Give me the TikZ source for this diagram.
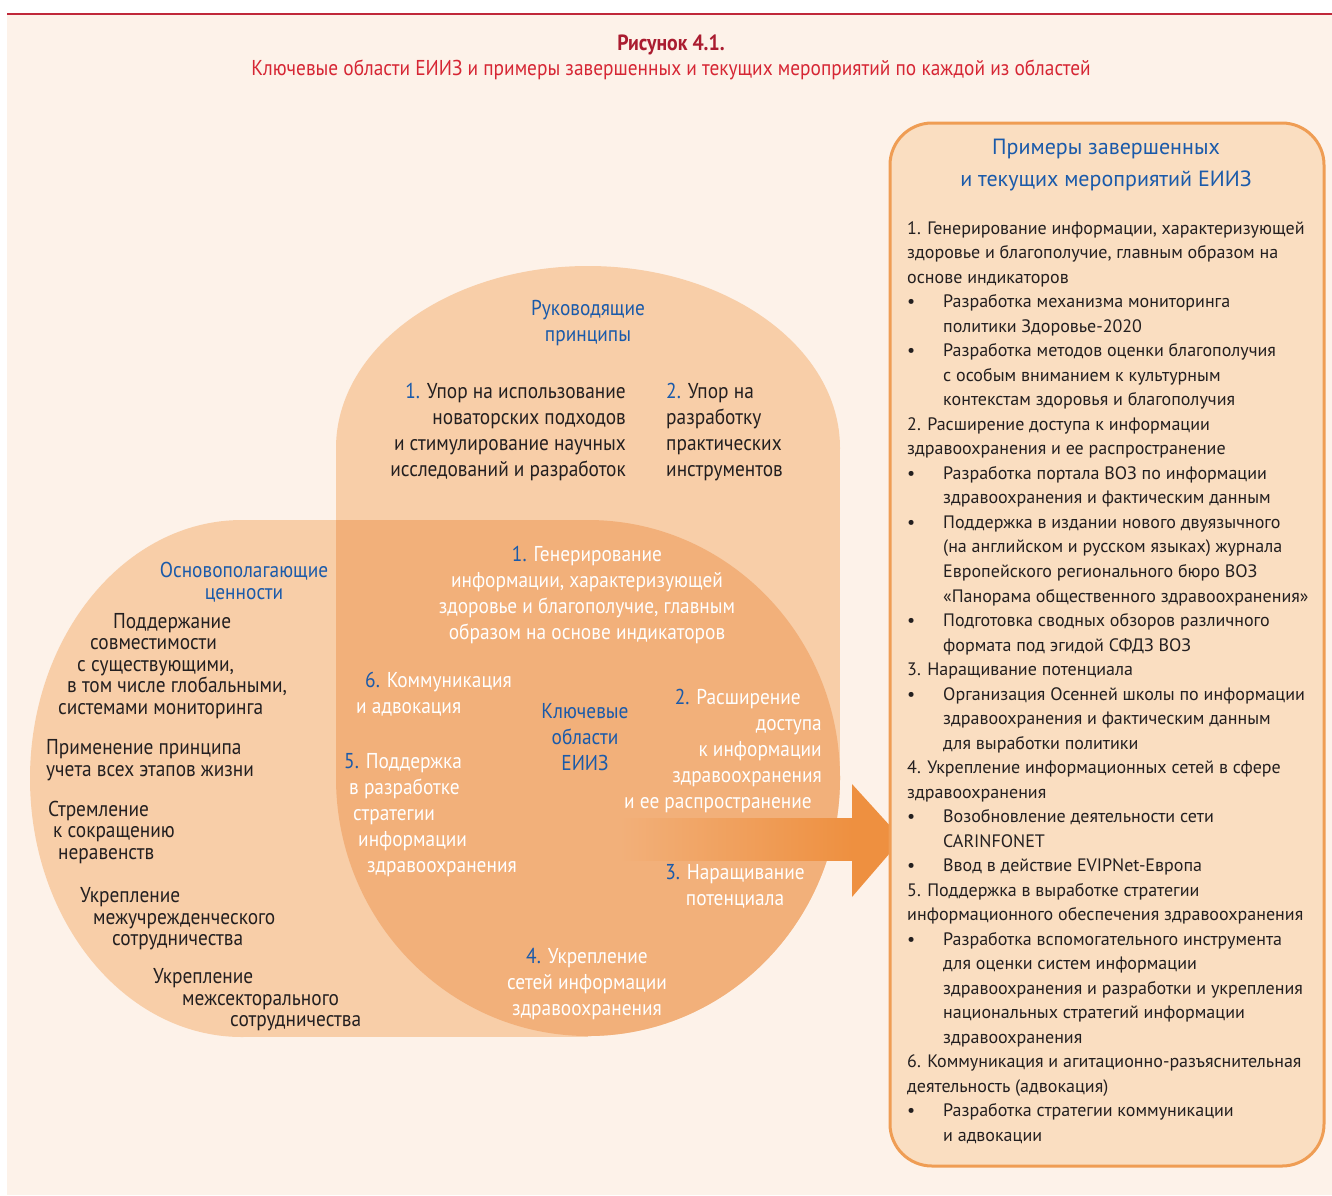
\documentclass[tikz,border=0pt]{standalone}
\usepackage{fontspec}
\setmainfont{PT Sans}
\newfontfamily\narrowfont[FakeStretch=0.9]{PT Sans}
\usepackage{tikz}
\usepackage{xcolor}
\definecolor{paper}{RGB}{253,242,233}
\definecolor{ruleRed}{RGB}{192,40,58}
\definecolor{titleRed}{RGB}{170,28,48}
\definecolor{captionRed}{RGB}{214,38,52}
\definecolor{peachLight}{RGB}{248,206,168}
\definecolor{peachDark}{RGB}{242,176,122}
\definecolor{arrowOrange}{RGB}{238,144,64}
\definecolor{boxFill}{RGB}{250,222,193}
\definecolor{boxLine}{RGB}{239,157,84}
\definecolor{whoBlue}{RGB}{26,90,170}
\definecolor{inkDark}{RGB}{35,31,32}
\newcommand{\areanum}[1]{\textcolor{whoBlue}{#1}}
\newcommand{\listbullet}{\makebox[36pt][l]{\textbullet}}
\newcommand{\listindent}{\hspace*{36pt}}

\begin{document}
\begin{tikzpicture}[x=1pt, y=-1pt,
    headtext/.style={inner sep=0pt, align=center, text=whoBlue, font=\narrowfont\fontsize{21.5}{26}\selectfont},
    diagtext/.style={inner sep=0pt, text=inkDark, font=\narrowfont\fontsize{21.5}{26}\selectfont},
    valuetext/.style={diagtext, align=left, anchor=west, font=\narrowfont\fontsize{21.5}{21.5}\selectfont},
    areatext/.style={inner sep=0pt, text=white, font=\narrowfont\fontsize{21.5}{26}\selectfont},
    listtext/.style={inner sep=0pt, align=left, anchor=west, text=inkDark, font=\fontsize{18}{24.51}\selectfont}
]
    \useasboundingbox (0,0) rectangle (1332,1195);
    \fill[paper] (7,15) rectangle (1332,1195);
    \draw[ruleRed, line width=2pt] (7,14) -- (1332,14);
    \node[font=\narrowfont\fontsize{22}{24}\bfseries, text=titleRed, inner sep=0pt] (title) at (671,45) {Рисунок 4.1.};
    \node[font=\narrowfont\fontsize{21.5}{24}\selectfont, text=captionRed, inner sep=0pt] (caption) at (671,70) {Ключевые области ЕИИЗ и примеры завершенных и текущих мероприятий по каждой из областей};
    % guiding principles and core values
    \fill[peachLight] (588,448) ellipse [x radius=252, y radius=182];
    \fill[peachLight] (336,448) rectangle (840,778);
    \fill[peachLight] (588,778) ellipse [x radius=252, y radius=258];
    \fill[peachLight] (242,778.5) ellipse [x radius=212, y radius=258.5];
    \fill[peachLight] (242,520) rectangle (588,1037);
    % key areas
    \fill[peachDark] (588,778) ellipse [x radius=252, y radius=258];
    \fill[peachDark] (336,520) rectangle (588,778);
    \shade[left color=peachDark, right color=arrowOrange] (620,818) rectangle (852,860);
    \fill[arrowOrange] (852,784) -- (902,839) -- (852,897) -- cycle;
    \node[headtext] (principles) at (588,323) {Руководящие\\принципы};
    \node[diagtext, align=right, anchor=east] (principle one) at (626,432) {\areanum{1.} Упор на использование\\новаторских подходов\\и стимулирование научных\\исследований и разработок};
    \node[diagtext, align=left, anchor=west] (principle two) at (666,432) {\areanum{2.} Упор на\\разработку\\практических\\инструментов};
    \node[headtext, font=\narrowfont\fontsize{21.5}{21.5}\selectfont] (values) at (244,582) {Основополагающие\\ценности};
    \node[valuetext] (value compat) at (58,666) {\hspace*{55pt}Поддержание\\\hspace*{32pt}совместимости\\\hspace*{19pt}с существующими,\\\hspace*{9pt}в том числе глобальными,\\системами мониторинга};
    \node[valuetext] (value life) at (46,760) {Применение принципа\\учета всех этапов жизни};
    \node[valuetext] (value equity) at (48,832) {Стремление\\\hspace*{5pt}к сокращению\\\hspace*{10pt}неравенств};
    \node[valuetext] (value inter) at (80,919) {Укрепление\\\hspace*{13pt}межучрежденческого\\\hspace*{32pt}сотрудничества};
    \node[valuetext] (value sector) at (153,1000) {Укрепление\\\hspace*{29pt}межсекторального\\\hspace*{77pt}сотрудничества};
    \node[areatext, align=center] (area one) at (587,595) {\areanum{1.} Генерирование\\информации, характеризующей\\здоровье и благополучие, главным\\образом на основе индикаторов};
    \node[areatext, align=left, anchor=west] (area six) at (356,694) {\hspace*{9pt}\areanum{6.} Коммуникация\\и адвокация};
    \node[headtext] (key areas) at (585,737) {Ключевые\\области\\ЕИИЗ};
    \node[areatext, align=right, anchor=east] (area two) at (822,751) {\areanum{2.} Расширение\hspace*{21pt}\\доступа\\к информации\\здравоохранения\\и ее распространение\hspace*{10pt}};
    \node[areatext, align=left, anchor=west] (area five) at (344,815) {\areanum{5.} Поддержка\\\hspace*{5pt}в разработке\\\hspace*{9pt}стратегии\\\hspace*{14pt}информации\\\hspace*{23pt}здравоохранения};
    \node[areatext, align=center] (area three) at (735,886) {\areanum{3.} Наращивание\\потенциала};
    \node[areatext, align=center] (area four) at (587,984) {\areanum{4.} Укрепление\\сетей информации\\здравоохранения};
    % examples
    \node[draw=boxLine, line width=3pt, fill=boxFill, rounded corners=42pt, minimum width=434pt, minimum height=1043pt, anchor=north west, inner sep=0pt] (examples box) at (888.5,121.5) {};
    \node[headtext, font=\fontsize{22}{32}\selectfont] (examples title) at (1106,165) {Примеры завершенных\\и текущих мероприятий ЕИИЗ};
    \node[listtext] (examples list) at (907,682.5) {1. Генерирование информации, характеризующей\\
здоровье и благополучие, главным образом на\\
основе индикаторов\\
\listbullet Разработка механизма мониторинга\\
\listindent политики Здоровье-2020\\
\listbullet Разработка методов оценки благополучия\\
\listindent с особым вниманием к культурным\\
\listindent контекстам здоровья и благополучия\\
2. Расширение доступа к информации\\
здравоохранения и ее распространение\\
\listbullet Разработка портала ВОЗ по информации\\
\listindent здравоохранения и фактическим данным\\
\listbullet Поддержка в издании нового двуязычного\\
\listindent (на английском и русском языках) журнала\\
\listindent Европейского регионального бюро ВОЗ\\
\listindent «Панорама общественного здравоохранения»\\
\listbullet Подготовка сводных обзоров различного\\
\listindent формата под эгидой СФДЗ ВОЗ\\
3. Наращивание потенциала\\
\listbullet Организация Осенней школы по информации\\
\listindent здравоохранения и фактическим данным\\
\listindent для выработки политики\\
4. Укрепление информационных сетей в сфере\\
здравоохранения\\
\listbullet Возобновление деятельности сети\\
\listindent CARINFONET\\
\listbullet Ввод в действие EVIPNet-Европа\\
5. Поддержка в выработке стратегии\\
информационного обеспечения здравоохранения\\
\listbullet Разработка вспомогательного инструмента\\
\listindent для оценки систем информации\\
\listindent здравоохранения и разработки и укрепления\\
\listindent национальных стратегий информации\\
\listindent здравоохранения\\
6. Коммуникация и агитационно-разъяснительная\\
деятельность (адвокация)\\
\listbullet Разработка стратегии коммуникации\\
\listindent и адвокации};
\end{tikzpicture}
\end{document}
